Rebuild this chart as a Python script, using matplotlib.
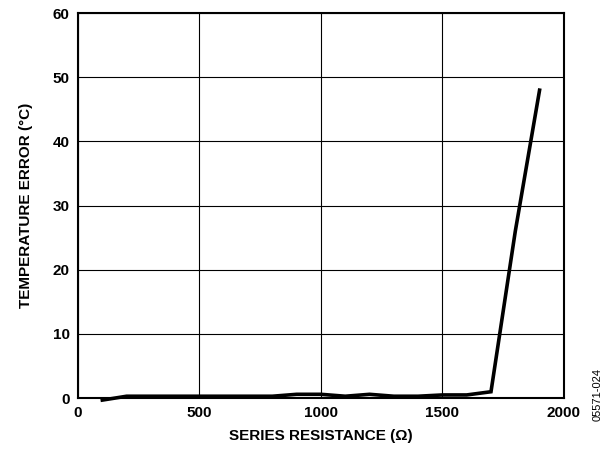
import matplotlib
matplotlib.use('Agg')
import matplotlib.pyplot as plt

plt.rcParams['font.family'] = ['Liberation Sans', 'DejaVu Sans']

# series resistance (ohm) vs temperature error (degC)
resistance = [100, 200, 300, 400, 500, 600, 700, 800, 900, 1000,
              1100, 1200, 1300, 1400, 1500, 1600, 1700, 1800, 1900]
temp_error = [-0.3, 0.3, 0.3, 0.3, 0.3, 0.3, 0.3, 0.3, 0.6, 0.6,
              0.3, 0.6, 0.3, 0.3, 0.5, 0.5, 1.0, 26, 48]

xticks = [0, 500, 1000, 1500, 2000]
yticks = [0, 10, 20, 30, 40, 50, 60]

fig = plt.figure(figsize=(6.05, 4.54), dpi=100)
ax = fig.add_axes([0.129, 0.123, 0.803, 0.848])

ax.plot(resistance, temp_error, color='black', linewidth=2.6,
        solid_joinstyle='miter', clip_on=False, zorder=3)

ax.set_xlim(0, 2000)
ax.set_ylim(0, 60)
ax.set_xticks(xticks)
ax.set_yticks(yticks)
ax.grid(True, color='black', linewidth=0.8)
ax.tick_params(length=0, pad=6, labelsize=11)
for lab in ax.get_xticklabels() + ax.get_yticklabels():
    lab.set_fontweight('bold')
for s in ax.spines.values():
    s.set_linewidth(1.5)

ax.set_xlabel('SERIES RESISTANCE (Ω)', fontsize=11, fontweight='bold', labelpad=6)
ax.set_ylabel('TEMPERATURE ERROR (°C)', fontsize=11, fontweight='bold', labelpad=14)

fig.text(0.987, 0.13, '05571-024', rotation=90, fontsize=8, ha='center', va='center')

fig.savefig('out.png', dpi=100)
